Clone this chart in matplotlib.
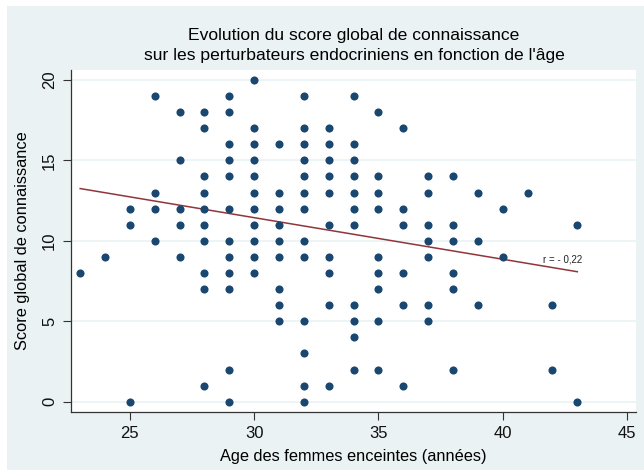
import matplotlib
matplotlib.use("Agg")
from matplotlib import pyplot as plt
from matplotlib.patches import Rectangle

plt.rcParams['font.family'] = ['Liberation Sans', 'DejaVu Sans']

# scores observed at each age (années)
ages = [23, 24, 25, 26, 27, 28, 29, 30, 31, 32, 33, 34, 35, 36, 37, 38, 39, 40, 41, 42, 43]
scores_by_age = [
    [8],
    [9],
    [12, 11, 0],
    [19, 13, 12, 10],
    [18, 15, 12, 11, 9],
    [18, 17, 14, 13, 12, 11, 10, 8, 7, 1],
    [19, 18, 16, 15, 14, 12, 10, 9, 8, 7, 2, 0],
    [20, 17, 16, 15, 14, 13, 12, 11, 10, 9, 8],
    [16, 13, 12, 11, 10, 9, 7, 6, 5],
    [19, 17, 16, 15, 14, 13, 12, 10, 9, 5, 3, 1, 0],
    [17, 16, 15, 14, 13, 11, 9, 8, 6, 1],
    [19, 16, 15, 14, 13, 12, 11, 6, 5, 4, 2],
    [18, 14, 13, 12, 9, 8, 7, 5, 2],
    [17, 12, 11, 8, 6, 1],
    [14, 13, 11, 10, 9, 6, 5],
    [14, 11, 10, 8, 7, 2],
    [13, 10, 6],
    [12, 9],
    [13],
    [6, 2],
    [11, 0],
]

# linear fit as drawn
fit_x = [23, 43]
fit_y = [13.25, 8.08]
r_label = "r = - 0,22"

xs = []
ys = []
for a, sc in zip(ages, scores_by_age):
    for s in sc:
        xs.append(a)
        ys.append(s)

bg = '#eaf2f3'
fig = plt.figure(figsize=(6.44, 4.72), dpi=100, facecolor='white')
fig.patches.append(Rectangle((7 / 644, 2 / 472), 637 / 644, 464 / 472,
                             transform=fig.transFigure, facecolor=bg,
                             edgecolor='none', zorder=-10))

ax = fig.add_axes([71 / 644, 60 / 472, 565 / 644, 342 / 472])
ax.set_facecolor('white')

ax.scatter(xs, ys, s=34, color='#1a476f', zorder=3, linewidths=0)
ax.plot(fit_x, fit_y, color='#90353b', lw=1.1, zorder=2)
ax.text(41.6, 8.85, r_label, fontsize=7, color='#222222', va='center', ha='left')

ax.set_xlim(22.63, 45.36)
ax.set_ylim(-0.64, 20.62)
ax.set_xticks([25, 30, 35, 40, 45])
ax.set_yticks([0, 5, 10, 15, 20])
ax.grid(axis='y', color=bg, lw=1.2, zorder=0)
ax.set_axisbelow(True)

for side in ['top', 'right']:
    ax.spines[side].set_visible(False)
for side in ['left', 'bottom']:
    ax.spines[side].set_color('#333333')
    ax.spines[side].set_linewidth(0.9)

ax.tick_params(axis='both', length=6, width=0.8, color='#333333',
               labelsize=12, labelcolor='#111111', pad=4)
for lbl in ax.get_yticklabels():
    lbl.set_rotation(90)
    lbl.set_va('center')

ax.set_xlabel("Age des femmes enceintes (années)", fontsize=11.8, labelpad=6)
ax.set_ylabel("Score global de connaissance", fontsize=11.8, labelpad=9)
fig.text(354 / 644, (472 - 45.5) / 472,
         "Evolution du score global de connaissance\n"
         "sur les perturbateurs endocriniens en fonction de l'âge",
         ha='center', va='center', fontsize=12.6, linespacing=1.4)

fig.savefig("out.png", dpi=100, facecolor=fig.get_facecolor())
